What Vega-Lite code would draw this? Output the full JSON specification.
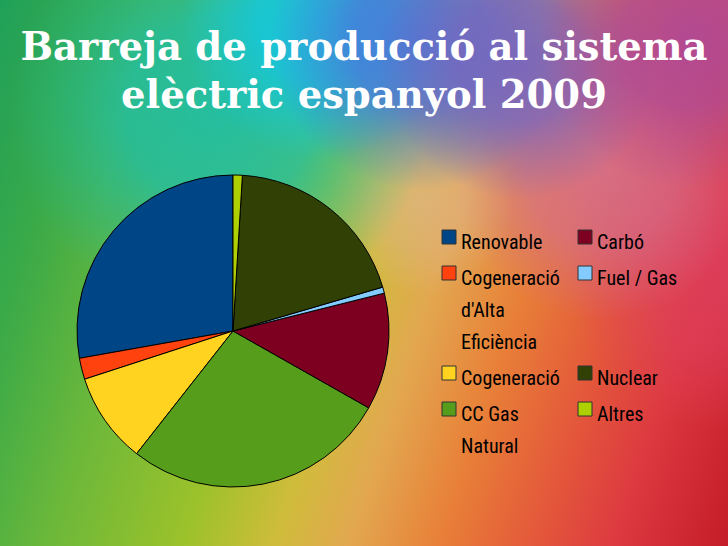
{
  "$schema": "https://vega.github.io/schema/vega-lite/v6.json",
  "width": 990,
  "height": 662,
  "autosize": {"type": "none"},
  "padding": {"left": -262, "top": 0, "right": 0, "bottom": -116},
  "background": "#3aa060",
  "title": {
    "text": ["Barreja de producció al sistema", "elèctric espanyol 2009"],
    "anchor": "middle",
    "frame": "group",
    "dx": 131,
    "offset": -116,
    "font": "DejaVu Serif",
    "fontSize": 38.5,
    "fontWeight": "bold",
    "color": "#ffffff",
    "lineHeight": 48
  },
  "config": {
    "view": {"stroke": null},
    "style": {"guide-label": {"lineHeight": 32, "dy": 12}}
  },
  "layer": [
    {
      "data": {"values": [{}]},
      "mark": {
        "type": "rect",
        "fill": {
          "gradient": "linear",
          "x1": 0.2646, "y1": 0, "x2": 1.139, "y2": 0.193,
          "stops": [
            {"offset": 0, "color": "#1fa05a"},
            {"offset": 0.12, "color": "#3aaa48"},
            {"offset": 0.25, "color": "#6cb83a"},
            {"offset": 0.4, "color": "#9cc22a"},
            {"offset": 0.5, "color": "#cfbc3a"},
            {"offset": 0.58, "color": "#e2a850"},
            {"offset": 0.68, "color": "#e88038"},
            {"offset": 0.78, "color": "#e45a3a"},
            {"offset": 0.88, "color": "#dc3840"},
            {"offset": 1, "color": "#c41c28"}
          ]
        }
      },
      "encoding": {}
    },
    {
      "data": {"values": [{}]},
      "mark": {
        "type": "rect",
        "fill": {
          "gradient": "radial",
          "x1": 1.0, "y1": 0.438, "r1": 0, "x2": 1.0, "y2": 0.438, "r2": 0.162,
          "stops": [
            {"offset": 0, "color": "rgba(222,64,100,0.7)"},
            {"offset": 0.5, "color": "rgba(222,64,100,0.5)"},
            {"offset": 1, "color": "rgba(222,64,100,0)"}
          ]
        }
      },
      "encoding": {}
    },
    {
      "data": {"values": [{}]},
      "mark": {
        "type": "rect",
        "fill": {
          "gradient": "radial",
          "x1": 0.871, "y1": 0.337, "r1": 0, "x2": 0.871, "y2": 0.337, "r2": 0.152,
          "stops": [
            {"offset": 0, "color": "rgba(210,110,150,0.8)"},
            {"offset": 0.5, "color": "rgba(210,110,150,0.6)"},
            {"offset": 1, "color": "rgba(210,110,150,0)"}
          ]
        }
      },
      "encoding": {}
    },
    {
      "data": {"values": [{}]},
      "mark": {
        "type": "rect",
        "fill": {
          "gradient": "radial",
          "x1": 0.689, "y1": 0.368, "r1": 0, "x2": 0.689, "y2": 0.368, "r2": 0.095,
          "stops": [
            {"offset": 0, "color": "rgba(225,180,150,0.6)"},
            {"offset": 0.5, "color": "rgba(225,180,150,0.4)"},
            {"offset": 1, "color": "rgba(225,180,150,0)"}
          ]
        }
      },
      "encoding": {}
    },
    {
      "data": {"values": [{}]},
      "mark": {
        "type": "rect",
        "fill": {
          "gradient": "radial",
          "x1": 0.487, "y1": 0.277, "r1": 0, "x2": 0.487, "y2": 0.277, "r2": 0.212,
          "stops": [
            {"offset": 0, "color": "rgba(32,190,165,0.95)"},
            {"offset": 0.45, "color": "rgba(32,190,165,0.8)"},
            {"offset": 1, "color": "rgba(32,190,165,0)"}
          ]
        }
      },
      "encoding": {}
    },
    {
      "data": {"values": [{}]},
      "mark": {
        "type": "rect",
        "fill": {
          "gradient": "radial",
          "x1": 0.588, "y1": 0.186, "r1": 0, "x2": 0.588, "y2": 0.186, "r2": 0.141,
          "stops": [
            {"offset": 0, "color": "rgba(20,200,224,0.95)"},
            {"offset": 0.45, "color": "rgba(20,200,224,0.8)"},
            {"offset": 1, "color": "rgba(20,200,224,0)"}
          ]
        }
      },
      "encoding": {}
    },
    {
      "data": {"values": [{}]},
      "mark": {
        "type": "rect",
        "fill": {
          "gradient": "radial",
          "x1": 0.689, "y1": 0.206, "r1": 0, "x2": 0.689, "y2": 0.206, "r2": 0.152,
          "stops": [
            {"offset": 0, "color": "rgba(72,120,220,0.95)"},
            {"offset": 0.45, "color": "rgba(72,120,220,0.8)"},
            {"offset": 1, "color": "rgba(72,120,220,0)"}
          ]
        }
      },
      "encoding": {}
    },
    {
      "data": {"values": [{}]},
      "mark": {
        "type": "rect",
        "fill": {
          "gradient": "radial",
          "x1": 0.79, "y1": 0.226, "r1": 0, "x2": 0.79, "y2": 0.226, "r2": 0.141,
          "stops": [
            {"offset": 0, "color": "rgba(120,100,190,0.9)"},
            {"offset": 0.45, "color": "rgba(120,100,190,0.75)"},
            {"offset": 1, "color": "rgba(120,100,190,0)"}
          ]
        }
      },
      "encoding": {}
    },
    {
      "data": {"values": [{}]},
      "mark": {
        "type": "rect",
        "fill": {
          "gradient": "radial",
          "x1": 0.962, "y1": 0.206, "r1": 0, "x2": 0.962, "y2": 0.206, "r2": 0.152,
          "stops": [
            {"offset": 0, "color": "rgba(176,72,150,0.95)"},
            {"offset": 0.45, "color": "rgba(176,72,150,0.8)"},
            {"offset": 1, "color": "rgba(176,72,150,0)"}
          ]
        }
      },
      "encoding": {}
    },
    {
      "data": {
        "values": [
          {"i": 1, "font": "Renovable", "share": 27.8},
          {"i": 2, "font": "Cogeneració d'Alta Eficiència", "share": 2.2},
          {"i": 3, "font": "Cogeneració", "share": 9.4},
          {"i": 4, "font": "CC Gas Natural", "share": 27.4},
          {"i": 5, "font": "Carbó", "share": 12.1},
          {"i": 6, "font": "Fuel / Gas", "share": 0.64},
          {"i": 7, "font": "Nuclear", "share": 19.5},
          {"i": 8, "font": "Altres", "share": 0.96}
        ]
      },
      "mark": {"type": "arc", "outerRadius": 156, "stroke": "#000000", "strokeWidth": 1},
      "encoding": {
        "theta": {"field": "share", "type": "quantitative", "stack": true},
        "order": {"field": "i", "sort": "descending"},
        "color": {
          "field": "font",
          "type": "nominal",
          "scale": {
            "domain": ["Renovable", "Cogeneració d'Alta Eficiència", "Cogeneració", "CC Gas Natural", "Carbó", "Fuel / Gas", "Nuclear", "Altres"],
            "range": ["#004586", "#ff420e", "#ffd320", "#579d1c", "#7e0021", "#83caff", "#314004", "#aecf00"]
          },
          "legend": {
            "title": null,
            "orient": "none",
            "legendX": 701,
            "legendY": 227,
            "padding": 0,
            "columns": 2,
            "columnPadding": 15,
            "rowPadding": 10,
            "symbolType": "square",
            "symbolSize": 196,
            "symbolStrokeColor": "#333333",
            "symbolStrokeWidth": 1,
            "symbolOpacity": 1,
            "labelFont": "Roboto Condensed, Liberation Sans Narrow, Roboto, sans-serif",
            "labelFontSize": 20,
            "labelColor": "#000000",
            "labelBaseline": "alphabetic",
            "labelOffset": 2,
            "labelLimit": 0,
            "labelExpr": "datum.label == 'CC Gas Natural' ? ['CC Gas', 'Natural'] : datum.label == 'Fuel / Gas' ? ['Fuel / Gas', '', ''] : indexof(datum.label, 'Alta') >= 0 ? ['Cogeneració', \"d'Alta\", 'Eficiència'] : datum.label"
          }
        }
      }
    }
  ]
}
